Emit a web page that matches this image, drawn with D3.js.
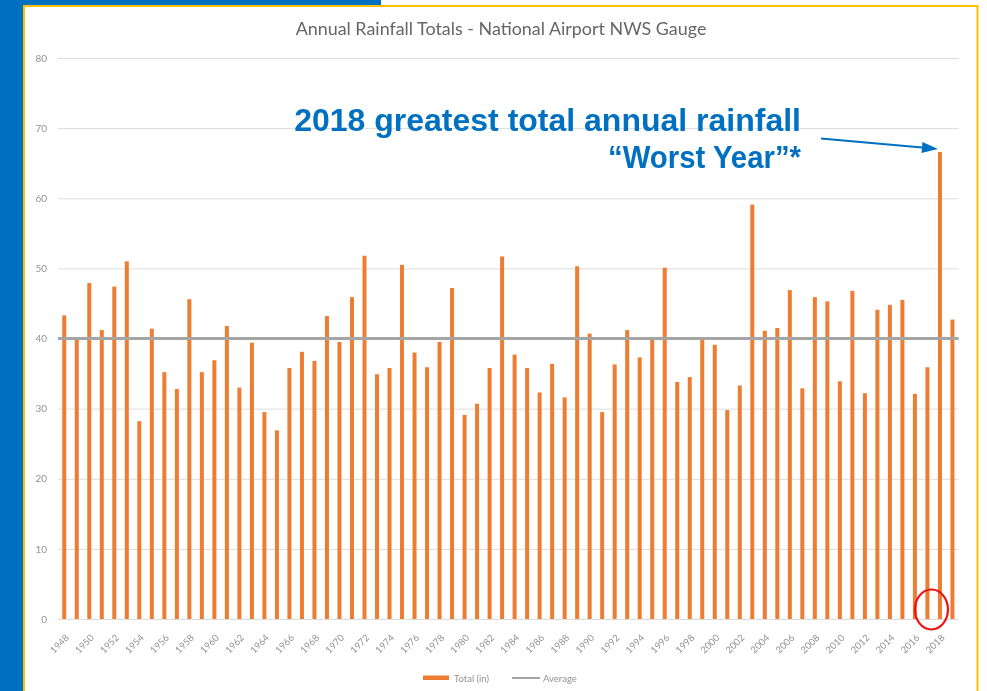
<!DOCTYPE html>
<html>
<head>
<meta charset="utf-8">
<title>Annual Rainfall Totals - National Airport NWS Gauge</title>
<script src="https://cdn.jsdelivr.net/npm/d3@7"></script>
<style>
  html, body { margin: 0; padding: 0; background: #ffffff; }
  svg { display: block; }
</style>
</head>
<body>
<svg id="chart" width="987" height="691"></svg>
<script>
// Annual rainfall totals (inches), National Airport NWS gauge
const years = [
  1948, 1949, 1950, 1951, 1952, 1953, 1954, 1955, 1956, 1957, 1958, 1959,
  1960, 1961, 1962, 1963, 1964, 1965, 1966, 1967, 1968, 1969, 1970, 1971,
  1972, 1973, 1974, 1975, 1976, 1977, 1978, 1979, 1980, 1981, 1982, 1983,
  1984, 1985, 1986, 1987, 1988, 1989, 1990, 1991, 1992, 1993, 1994, 1995,
  1996, 1997, 1998, 1999, 2000, 2001, 2002, 2003, 2004, 2005, 2006, 2007,
  2008, 2009, 2010, 2011, 2012, 2013, 2014, 2015, 2016, 2017, 2018, 2019
];
const totals = [
  43.3, 39.8, 47.9, 41.2, 47.4, 51.0, 28.2, 41.4, 35.2, 32.8, 45.6, 35.2,
  36.9, 41.8, 33.0, 39.4, 29.5, 26.9, 35.8, 38.1, 36.8, 43.2, 39.5, 45.9,
  51.8, 34.9, 35.8, 50.5, 38.0, 35.9, 39.5, 47.2, 29.1, 30.7, 35.8, 51.7,
  37.7, 35.8, 32.3, 36.4, 31.6, 50.3, 40.7, 29.5, 36.3, 41.2, 37.3, 39.8,
  50.1, 33.8, 34.5, 39.8, 39.1, 29.8, 33.3, 59.1, 41.1, 41.5, 46.9, 32.9,
  45.9, 45.3, 33.9, 46.8, 32.2, 44.1, 44.8, 45.5, 32.1, 35.9, 66.6, 42.7
];
const averageValue = 40;
const yTicks = [0, 10, 20, 30, 40, 50, 60, 70, 80];
const xTickYears = [
  1948, 1950, 1952, 1954, 1956, 1958, 1960, 1962, 1964, 1966, 1968, 1970,
  1972, 1974, 1976, 1978, 1980, 1982, 1984, 1986, 1988, 1990, 1992, 1994,
  1996, 1998, 2000, 2002, 2004, 2006, 2008, 2010, 2012, 2014, 2016, 2018
];
const highlightYear = 2018;
const seriesNames = ["Total (in)", "Average"];

const rows = years.map((yr, i) => ({ year: yr, total: totals[i] }));

const W = 987, H = 691;
const plot = { left: 58, right: 958.7, top: 58, bottom: 619 };

const colors = {
  slideBlue: "#0070c0",
  frame: "#ffc000",
  bar: "#ed7d31",
  average: "#a5a5a5",
  grid: "#dcdcdc",
  axisText: "#939393",
  title: "#666666",
  callout: "#0070c0",
  ring: "#ee1111"
};

const svg = d3.select("#chart");

// Slide background: blue side band and top strip, then the chart card
svg.append("rect").attr("x", 0).attr("y", 0).attr("width", W).attr("height", H).attr("fill", "#ffffff");
svg.append("rect").attr("x", 0).attr("y", 0).attr("width", 23).attr("height", H).attr("fill", colors.slideBlue);
svg.append("rect").attr("x", 0).attr("y", 0).attr("width", 381).attr("height", 5).attr("fill", colors.slideBlue);
svg.append("path")
  .attr("d", `M24,${H + 2} L24,6 L977.5,6 L977.5,${H + 2}`)
  .attr("fill", "#ffffff")
  .attr("stroke", colors.frame)
  .attr("stroke-width", 2);

// Soft rendering for the embedded chart image
const defs = svg.append("defs");
defs.append("filter").attr("id", "soft")
  .attr("x", "-2%").attr("y", "-2%").attr("width", "104%").attr("height", "104%")
  .append("feGaussianBlur").attr("stdDeviation", 0.35);

const chart = svg.append("g").attr("filter", "url(#soft)");

const x = d3.scaleBand()
  .domain(years)
  .range([plot.left, plot.right])
  .paddingInner(0.68)
  .paddingOuter(0.34);

const y = d3.scaleLinear()
  .domain([0, 80])
  .range([plot.bottom, plot.top]);

const uiFont = "Lato, 'Open Sans', 'DejaVu Sans', sans-serif";

// Title
chart.append("text")
  .attr("x", 501)
  .attr("y", 35)
  .attr("text-anchor", "middle")
  .attr("font-family", uiFont)
  .attr("font-size", 17.9)
  .attr("fill", colors.title)
  .text("Annual Rainfall Totals - National Airport NWS Gauge");

// Horizontal gridlines + y-axis labels
const yAxis = d3.axisLeft(y)
  .tickValues(yTicks)
  .tickSize(-(plot.right - plot.left))
  .tickPadding(11);
const yG = chart.append("g")
  .attr("transform", `translate(${plot.left},0)`)
  .call(yAxis);
yG.select(".domain").remove();
yG.selectAll(".tick line").attr("stroke", colors.grid).attr("stroke-width", 1);
yG.selectAll(".tick text")
  .attr("font-family", uiFont)
  .attr("font-size", 10)
  .attr("fill", colors.axisText);

// Bars
chart.append("g")
  .selectAll("rect")
  .data(rows)
  .join("rect")
  .attr("x", d => x(d.year))
  .attr("y", d => y(d.total))
  .attr("width", x.bandwidth())
  .attr("height", d => y(0) - y(d.total))
  .attr("fill", colors.bar);

// Average line
chart.append("line")
  .attr("x1", plot.left)
  .attr("x2", plot.right)
  .attr("y1", y(averageValue))
  .attr("y2", y(averageValue))
  .attr("stroke", colors.average)
  .attr("stroke-width", 3);

// X-axis year labels (every other year, rotated)
const xAxis = d3.axisBottom(x)
  .tickValues(xTickYears)
  .tickSize(0)
  .tickPadding(0);
const xG = chart.append("g")
  .attr("transform", `translate(0,${plot.bottom})`)
  .call(xAxis);
xG.select(".domain").remove();
xG.selectAll(".tick text")
  .attr("font-family", uiFont)
  .attr("font-size", 9.5)
  .attr("fill", colors.axisText)
  .attr("text-anchor", "end")
  .attr("dy", "0.35em")
  .attr("transform", "translate(3,17) rotate(-45)");

// Legend
const legend = chart.append("g").attr("font-family", uiFont).attr("font-size", 9.5).attr("fill", colors.axisText);
legend.append("rect")
  .attr("x", 423).attr("y", 675.5).attr("width", 26).attr("height", 4.5)
  .attr("fill", colors.bar);
legend.append("text").attr("x", 454).attr("y", 681.5).text(seriesNames[0]);
legend.append("line")
  .attr("x1", 512).attr("x2", 540).attr("y1", 678).attr("y2", 678)
  .attr("stroke", colors.average).attr("stroke-width", 2);
legend.append("text").attr("x", 543).attr("y", 681.5).text(seriesNames[1]);

// Callout for the wettest year
const calloutFont = "'Liberation Sans', Arial, Helvetica, sans-serif";
const callout = svg.append("g")
  .attr("font-family", calloutFont)
  .attr("font-weight", "bold")
  .attr("font-size", 32)
  .attr("fill", colors.callout)
  .attr("text-anchor", "end");
callout.append("text").attr("x", 801).attr("y", 131).text("2018 greatest total annual rainfall");
callout.append("text").attr("x", 801).attr("y", 168)
  .attr("textLength", 193).attr("lengthAdjust", "spacingAndGlyphs")
  .text("\u201CWorst Year\u201D*");

const peak = rows.find(d => d.year === highlightYear);
const tipX = x(peak.year) + x.bandwidth() / 2 - 2;
const tipY = y(peak.total) - 3;
const startX = 821, startY = 138.5;
const ang = Math.atan2(tipY - startY, tipX - startX);
const headLen = 16, headHalf = 5.5;
const baseX = tipX - headLen * Math.cos(ang), baseY = tipY - headLen * Math.sin(ang);
svg.append("line")
  .attr("x1", startX).attr("y1", startY)
  .attr("x2", baseX).attr("y2", baseY)
  .attr("stroke", colors.callout).attr("stroke-width", 2);
svg.append("path")
  .attr("d", `M${tipX},${tipY} L${baseX - headHalf * Math.sin(ang)},${baseY + headHalf * Math.cos(ang)} L${baseX + headHalf * Math.sin(ang)},${baseY - headHalf * Math.cos(ang)} Z`)
  .attr("fill", colors.callout);

// Red ring around the 2017–2018 bar bases
svg.append("ellipse")
  .attr("cx", x(2017) + x.bandwidth() / 2 + 4)
  .attr("cy", 609.5)
  .attr("rx", 16.5)
  .attr("ry", 20)
  .attr("fill", "none")
  .attr("stroke", colors.ring)
  .attr("stroke-width", 2.2);
</script>
</body>
</html>
